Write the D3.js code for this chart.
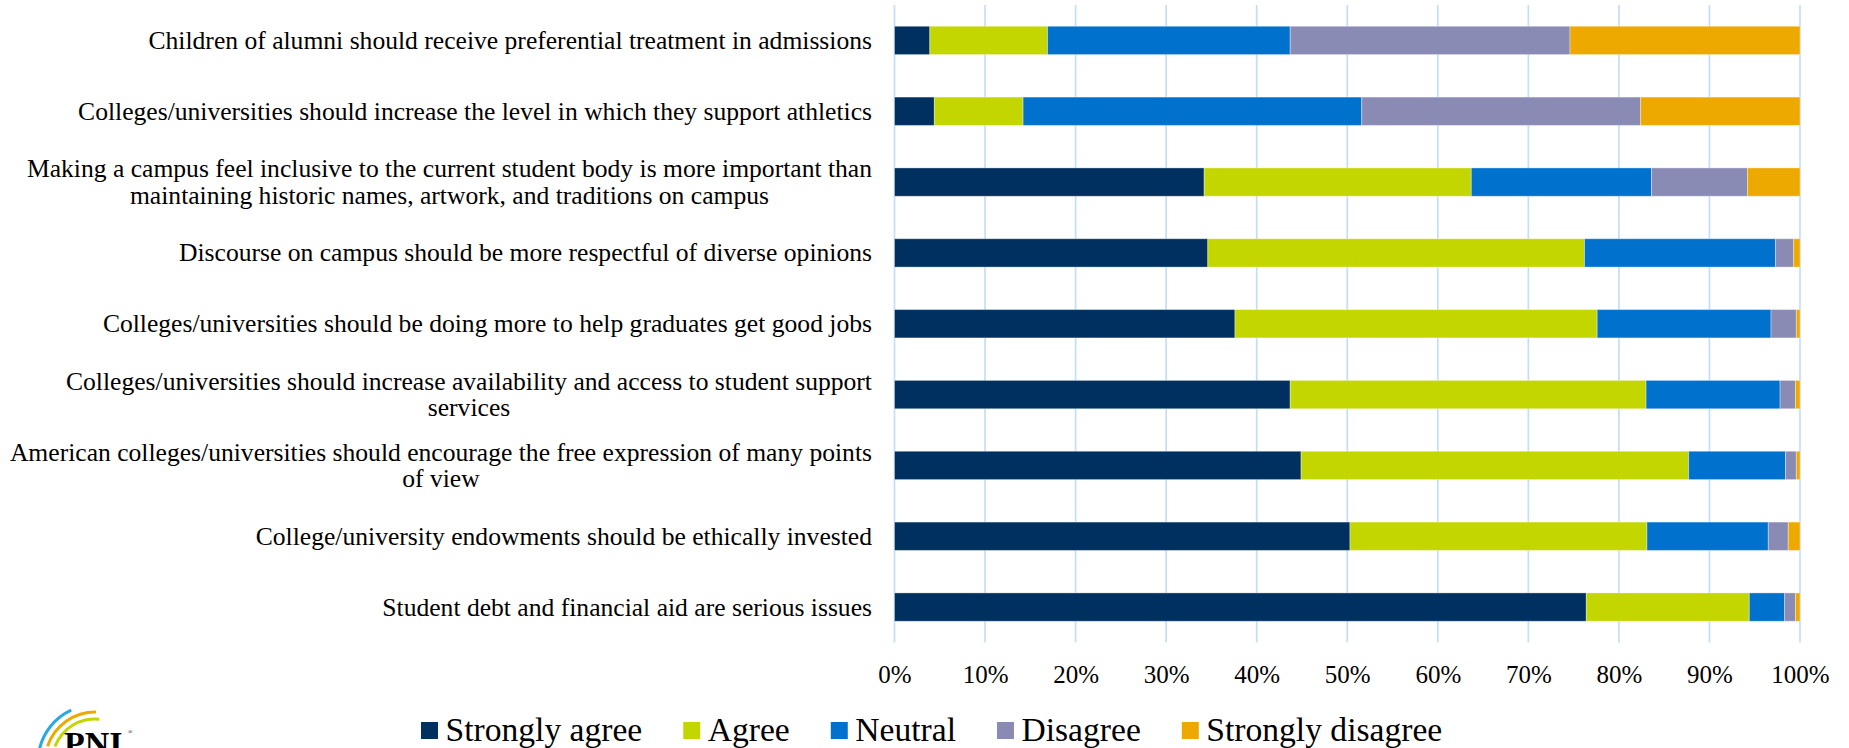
<!DOCTYPE html>
<html>
<head>
<meta charset="utf-8">
<script src="https://cdn.jsdelivr.net/npm/d3@7"></script>
<style>
  html, body { margin: 0; padding: 0; background: #fff; }
  svg { display: block; }
  text { font-family: "Liberation Serif", "Times New Roman", serif; fill: #000; }
</style>
</head>
<body>
<svg id="chart" width="1849" height="748"></svg>
<script>
// ---- Data ----
const categories = [
  "Children of alumni should receive preferential treatment in admissions",
  "Colleges/universities should increase the level in which they support athletics",
  "Making a campus feel inclusive to the current student body is more important than\nmaintaining historic names, artwork, and traditions on campus",
  "Discourse on campus should be more respectful of diverse opinions",
  "Colleges/universities should be doing more to help graduates get good jobs",
  "Colleges/universities should increase availability and access to student support\nservices",
  "American colleges/universities should encourage the free expression of many points\nof view",
  "College/university endowments should be ethically invested",
  "Student debt and financial aid are serious issues"
];
const seriesNames = ["Strongly agree", "Agree", "Neutral", "Disagree", "Strongly disagree"];
const stronglyAgree    = [3.9, 4.4, 34.2, 34.6, 37.6, 43.7, 44.9, 50.3, 76.4];
const agree            = [13.0, 9.8, 29.5, 41.6, 40.0, 39.3, 42.8, 32.8, 18.0];
const neutral          = [26.8, 37.4, 19.9, 21.1, 19.2, 14.8, 10.7, 13.4, 3.9];
const disagree         = [30.9, 30.8, 10.6, 2.0, 2.8, 1.7, 1.2, 2.2, 1.2];
const stronglyDisagree = [25.4, 17.6, 5.8, 0.7, 0.4, 0.5, 0.4, 1.3, 0.5];
const tickValues = [0, 0.1, 0.2, 0.3, 0.4, 0.5, 0.6, 0.7, 0.8, 0.9, 1.0];
const colors = ["#00305F", "#C4D600", "#0072CE", "#8A8BB5", "#EDA900"];

// ---- Build table ----
const seriesValues = [stronglyAgree, agree, neutral, disagree, stronglyDisagree];
const rows = categories.map((c, i) => {
  const r = { category: c };
  seriesNames.forEach((s, j) => r[s] = seriesValues[j][i]);
  return r;
});
// normalise each row to 100%
const stacked = d3.stack().keys(seriesNames).offset(d3.stackOffsetExpand)(rows);

const svg = d3.select("#chart");
const plotTop = 5, plotBottom = 642.5;
const x = d3.scaleLinear().domain([0, 1]).range([894.5, 1800]);
const y = d3.scaleBand().domain(categories).range([plotTop, plotBottom])
  .paddingInner(0.6).paddingOuter(0.3);
const color = d3.scaleOrdinal().domain(seriesNames).range(colors);

// gridlines
svg.append("g").selectAll("line").data(tickValues).join("line")
  .attr("x1", d => x(d)).attr("x2", d => x(d))
  .attr("y1", plotTop).attr("y2", plotBottom)
  .attr("stroke", "#C3DEF9").attr("stroke-width", 1.7);

// bars
svg.append("g").selectAll("g").data(stacked).join("g")
  .attr("fill", d => color(d.key))
  .selectAll("rect").data(d => d).join("rect")
  .attr("x", d => x(d[0]))
  .attr("width", d => Math.max(0, x(d[1]) - x(d[0])))
  .attr("y", d => y(d.data.category))
  .attr("height", y.bandwidth())
  .attr("stroke", "rgba(255,255,255,0.35)")
  .attr("stroke-width", 1);

// x axis tick labels
const xAxis = d3.axisBottom(x).tickValues(tickValues).tickFormat(d3.format(".0%")).tickSize(0).tickPadding(0);
const gx = svg.append("g").attr("transform", `translate(0,${plotBottom})`).call(xAxis);
gx.select(".domain").remove();
gx.selectAll("text").attr("font-size", 25).attr("font-family", "Liberation Serif, serif")
  .attr("fill", "#000").attr("dy", null).attr("y", 40.5);

// category labels
const labelRight = 872, lineH = 26.5, labelFont = 25.6;
const lg = svg.append("g");
categories.forEach(c => {
  const lines = c.split("\n");
  const cy = y(c) + y.bandwidth() / 2;
  const t = lg.append("text").attr("font-size", labelFont);
  lines.forEach((ln, k) => {
    t.append("tspan").text(ln)
      .attr("y", cy + (k - (lines.length - 1) / 2) * lineH)
      .attr("dy", "0.33em");
  });
  const widths = [];
  t.selectAll("tspan").each(function () { widths.push(this.getComputedTextLength()); });
  const maxW = d3.max(widths);
  t.attr("text-anchor", "middle");
  t.selectAll("tspan").attr("x", labelRight - maxW / 2);
});

// legend
const leg = svg.append("g");
let lx = 421;
seriesNames.forEach((s, i) => {
  leg.append("rect").attr("x", lx).attr("y", 722).attr("width", 17).attr("height", 17)
    .attr("fill", colors[i]);
  const t = leg.append("text").attr("x", lx + 24.5).attr("y", 741).attr("font-size", 33.6).text(s);
  lx = lx + 24.5 + t.node().getComputedTextLength() + 41;
});

// logo (PNI)
const logo = svg.append("g").attr("transform", "translate(95,762)");
const arcs = [
  { r: 57, a0: -1.38, a1: -0.43, c: "#29A9E0" },
  { r: 50, a0: -1.25, a1: 0.02, c: "#EDA900" },
  { r: 43, a0: -1.2, a1: 0.1, c: "#C4D600" }
];
arcs.forEach(a => {
  logo.append("path")
    .attr("d", d3.arc().innerRadius(a.r - 1.5).outerRadius(a.r + 1.5).startAngle(a.a0).endAngle(a.a1)())
    .attr("fill", a.c);
});
svg.append("text").attr("x", 64).attr("y", 755).attr("font-size", 34).attr("font-weight", "bold")
  .attr("font-family", "Liberation Sans, Arial, sans-serif").attr("fill", "#0B2D5B").text("PNI");
svg.append("text").attr("x", 128).attr("y", 734).attr("font-size", 6)
  .attr("font-family", "Liberation Sans, Arial, sans-serif").attr("fill", "#0B2D5B").text("®");
</script>
</body>
</html>
